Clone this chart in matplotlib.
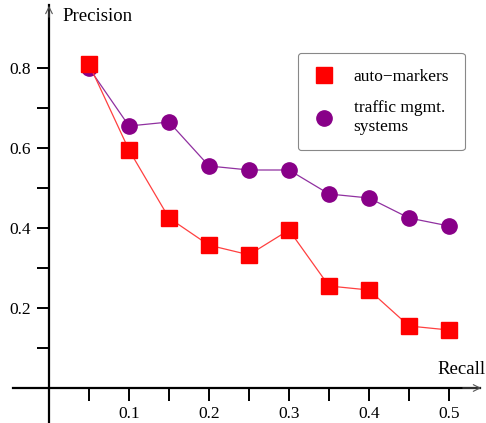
import matplotlib
matplotlib.use("Agg")
import matplotlib.pyplot as plt

recall = [0.05, 0.10, 0.15, 0.20, 0.25, 0.30, 0.35, 0.40, 0.45, 0.50]
auto_markers = [0.81, 0.595, 0.425, 0.357, 0.333, 0.395, 0.255, 0.245, 0.155, 0.145]
traffic_mgmt = [0.80, 0.655, 0.665, 0.555, 0.545, 0.545, 0.485, 0.475, 0.425, 0.405]
xticks = [0.1, 0.2, 0.3, 0.4, 0.5]
yticks = [0.2, 0.4, 0.6, 0.8]

plt.rcParams['font.family'] = ['Liberation Serif', 'DejaVu Serif']

W, H = 486, 423
fig = plt.figure(figsize=(W / 100, H / 100), dpi=100)
ax = fig.add_axes([0, 0, 1, 1])
x0px, y0px = 49, 388
sx, sy = 800.0, 400.0
ax.set_xlim(-x0px / sx, (W - x0px) / sx)
ax.set_ylim(-(H - y0px) / sy, y0px / sy)

ax.plot(recall, auto_markers, color='#ff4040', lw=0.9, marker='s', ms=11,
        mfc='#ff0000', mec='#ff0000', label='auto\u2212markers', zorder=3)
ax.plot(recall, traffic_mgmt, color='#9030a0', lw=0.9, marker='o', ms=11,
        mfc='#880088', mec='#880088', label='traffic mgmt.\nsystems', zorder=2)

for s in ['top', 'right']:
    ax.spines[s].set_visible(False)
ax.spines['left'].set_position(('data', 0))
ax.spines['bottom'].set_position(('data', 0))
ax.spines['left'].set_linewidth(1.6)
ax.spines['bottom'].set_linewidth(1.6)
ax.spines['bottom'].set_bounds(-36 / sx, (480 - x0px) / sx)
ax.spines['left'].set_bounds(-(H - y0px) / sy, (y0px - 5) / sy)

ax.set_xticks(xticks)
ax.set_xticklabels([str(v) for v in xticks])
ax.set_xticks([0.05, 0.15, 0.25, 0.35, 0.45], minor=True)
ax.set_yticks(yticks)
ax.set_yticklabels([str(v) for v in yticks])
ax.set_yticks([0.1, 0.3, 0.5, 0.7], minor=True)
ax.tick_params(which='both', direction='out', length=9, width=1.4)
ax.tick_params(axis='x', which='major', labelsize=12.5, pad=4)
ax.tick_params(axis='y', which='major', labelsize=12.5, pad=4)

# arrow heads
ax.annotate('', xy=(0, (y0px - 3) / sy), xytext=(0, (y0px - 20) / sy),
            arrowprops=dict(arrowstyle='->', lw=0.8, color='#555555', mutation_scale=12))
ax.annotate('', xy=((484 - x0px) / sx, 0), xytext=((460 - x0px) / sx, 0),
            arrowprops=dict(arrowstyle='->', lw=0.8, color='#555555', mutation_scale=12))

ax.text((62 - x0px) / sx, (y0px - 17) / sy, 'Precision', fontsize=13.5,
        ha='left', va='center')
ax.text((486 - x0px) / sx, 19 / sy, 'Recall', fontsize=13.5,
        ha='right', va='center')

leg = ax.legend(loc='upper left', bbox_to_anchor=(298 / W, 1 - 53 / H),
                bbox_transform=fig.transFigure, fancybox=True, edgecolor='#888888',
                fontsize=12.5, framealpha=1, borderpad=0.9, labelspacing=0.9,
                handlelength=1.2, handletextpad=1.1, borderaxespad=0)
leg.get_frame().set_linewidth(0.8)
for h in leg.legend_handles:
    h.set_linestyle('none')

fig.savefig('out.png', dpi=100)
